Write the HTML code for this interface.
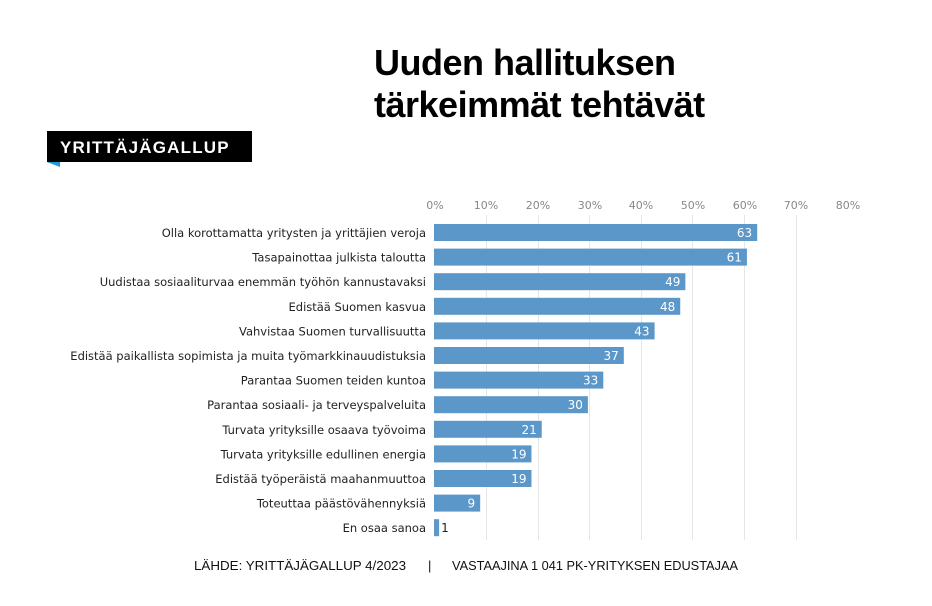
<!DOCTYPE html><html><head><style>body{margin:0;background:#fff}svg{display:block}</style></head><body>
<svg width="932" height="606" xmlns="http://www.w3.org/2000/svg" font-family="Liberation Sans, DejaVu Sans, sans-serif">
<text x="374" y="75" font-size="36" font-weight="bold" fill="#000" style="letter-spacing:-0.5px">Uuden hallituksen</text>
<text x="374" y="117" font-size="36" font-weight="bold" fill="#000" style="letter-spacing:-0.5px">tärkeimmät tehtävät</text>
<rect x="47" y="131" width="205" height="31" fill="#000"/>
<polygon points="47,162 60,162 60,167" fill="#1a9ad6"/>
<text x="60" y="153" font-size="17" font-weight="bold" fill="#fff" letter-spacing="1.2">YRITTÄJÄGALLUP</text>
<g stroke="#e6e6e6" stroke-width="1">
<line x1="486.5" y1="215" x2="486.5" y2="540"/><line x1="538.5" y1="215" x2="538.5" y2="540"/><line x1="589.5" y1="215" x2="589.5" y2="540"/><line x1="641.5" y1="215" x2="641.5" y2="540"/><line x1="692.5" y1="215" x2="692.5" y2="540"/><line x1="744.5" y1="215" x2="744.5" y2="540"/><line x1="796.5" y1="215" x2="796.5" y2="540"/>
</g>
<g font-size="11" fill="#888" text-anchor="middle" font-family="DejaVu Sans, sans-serif">
<text x="435" y="209">0%</text><text x="486" y="209">10%</text><text x="538" y="209">20%</text><text x="590" y="209">30%</text><text x="641" y="209">40%</text><text x="693" y="209">50%</text><text x="745" y="209">60%</text><text x="796" y="209">70%</text><text x="848" y="209">80%</text>
</g>
<g font-size="11.5" fill="#222" text-anchor="end" id="lbl" font-family="DejaVu Sans, sans-serif"></g>
<g id="bars" font-family="DejaVu Sans, sans-serif"></g>
<text x="194" y="570" font-size="13" fill="#111" textLength="212" lengthAdjust="spacingAndGlyphs">LÄHDE: YRITTÄJÄGALLUP 4/2023</text>
<text x="428" y="570" font-size="13" fill="#111">|</text>
<text x="452" y="570" font-size="13" fill="#111" textLength="286" lengthAdjust="spacingAndGlyphs">VASTAAJINA 1 041 PK-YRITYKSEN EDUSTAJAA</text>
<script>
var d=[["Olla korottamatta yritysten ja yrittäjien veroja",63],["Tasapainottaa julkista taloutta",61],["Uudistaa sosiaaliturvaa enemmän työhön kannustavaksi",49],["Edistää Suomen kasvua",48],["Vahvistaa Suomen turvallisuutta",43],["Edistää paikallista sopimista ja muita työmarkkinauudistuksia",37],["Parantaa Suomen teiden kuntoa",33],["Parantaa sosiaali- ja terveyspalveluita",30],["Turvata yrityksille osaava työvoima",21],["Turvata yrityksille edullinen energia",19],["Edistää työperäistä maahanmuuttoa",19],["Toteuttaa päästövähennyksiä",9],["En osaa sanoa",1]];
var ns="http://www.w3.org/2000/svg",L=document.getElementById("lbl"),B=document.getElementById("bars");
d.forEach(function(r,i){var y=224+i*24.6;
var t=document.createElementNS(ns,"text");t.setAttribute("x",426);t.setAttribute("y",y+13);t.textContent=r[0];L.appendChild(t);
var w=r[1]*5.13;var b=document.createElementNS(ns,"rect");b.setAttribute("x",434);b.setAttribute("y",y);b.setAttribute("width",w);b.setAttribute("height",17);b.setAttribute("fill","#5b97c9");B.appendChild(b);
var v=document.createElementNS(ns,"text");v.setAttribute("font-size","12");v.setAttribute("y",y+13);
if(r[1]>3){v.setAttribute("x",434+w-5);v.setAttribute("text-anchor","end");v.setAttribute("fill","#fff");}else{v.setAttribute("x",434+w+2);v.setAttribute("fill","#222");}
v.textContent=r[1];B.appendChild(v);});
</script>
</svg></body></html>
